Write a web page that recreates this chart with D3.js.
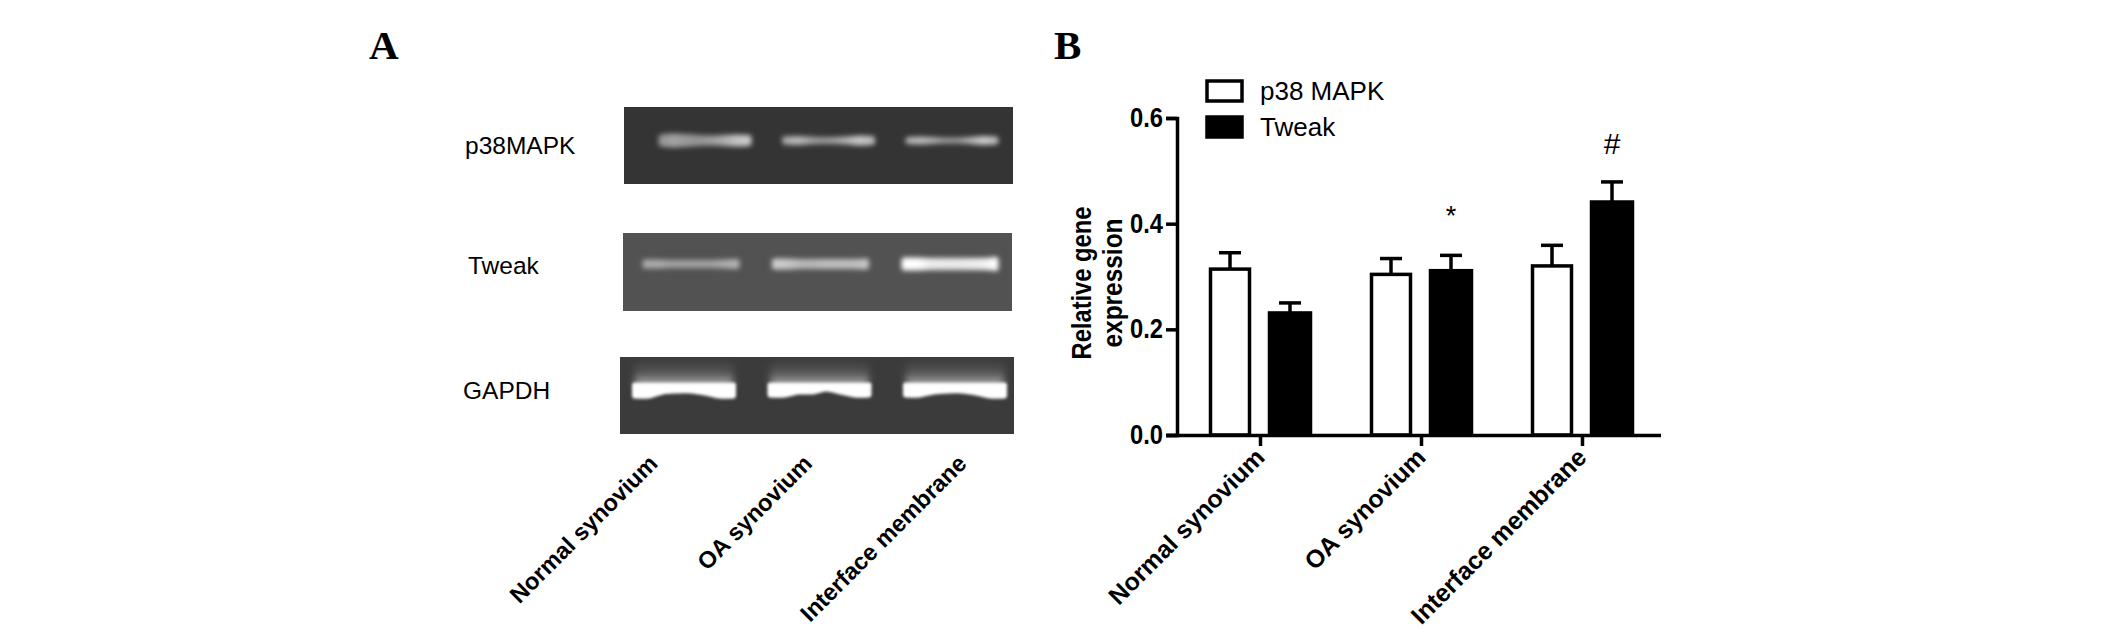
<!DOCTYPE html>
<html><head><meta charset="utf-8">
<script src="https://cdn.jsdelivr.net/npm/d3@7"></script>
<style>html,body{margin:0;padding:0;background:#fff}svg{display:block}text{font-family:"Liberation Sans",Arial,sans-serif;fill:#000}</style>
</head><body><svg id="c" width="2126" height="638"></svg>
<script>
const categories=["Normal synovium","OA synovium","Interface membrane"];
const seriesNames=["p38 MAPK","Tweak"];
const p38Values=[0.314,0.304,0.320];
const p38Errors=[0.031,0.030,0.039];
const tweakValues=[0.231,0.311,0.441];
const tweakErrors=[0.019,0.029,0.038];
const yTicks=[0,0.2,0.4,0.6];
const significance=["","*","#"];
const gelNames=["p38MAPK","Tweak","GAPDH"];
// Band appearance along each lane (8 samples, left to right)
const p38Thickness=[[7,9,8,6,5,6,7,6],[3,4,3,2,2,3,5,4],[2,3,2,1,1,2,4,3]];
const p38Brightness=[[.42,.5,.45,.42,.48,.55,.68,.72],[.55,.62,.5,.45,.5,.6,.7,.62],[.6,.62,.55,.45,.45,.6,.72,.62]];
const tweakThickness=[[4,4,3,3,3,3,4,5],[6,6,5,5,5,5,5,6],[8,8,7,7,7,7,7,9]];
const tweakBrightness=[[.55,.55,.5,.5,.5,.5,.55,.6],[.75,.7,.62,.62,.65,.65,.65,.7],[1,1,.9,.88,.88,.9,.92,1]];
const gapdhThickness=[[11,11,7,6,6,8,11,11],[10,10,7,7,4,7,10,10],[10,10,7,6,6,8,11,11]];
const gapdhBrightness=[[1,1,1,1,1,1,1,1],[1,1,1,1,1,1,1,1],[1,1,1,1,1,1,1,1]];

const svg=d3.select("#c");
const defs=svg.append("defs");
[["b3",2.8],["b2",1.8],["b6",3.5]].forEach(([id,s])=>defs.append("filter").attr("id",id).attr("filterUnits","userSpaceOnUse").attr("x",600).attr("y",90).attr("width",440).attr("height",360).append("feGaussianBlur").attr("stdDeviation",s));
const glowGrad=defs.append("linearGradient").attr("id","glow").attr("x1",0).attr("x2",0).attr("y1",0).attr("y2",1);
glowGrad.append("stop").attr("offset",0).attr("stop-color","#ffffff").attr("stop-opacity",0.02);
glowGrad.append("stop").attr("offset",0.5).attr("stop-color","#ffffff").attr("stop-opacity",0.14);
glowGrad.append("stop").attr("offset",1).attr("stop-color","#ffffff").attr("stop-opacity",0.65);

const letterStyle=s=>s.style("font-family","Liberation Serif").style("font-weight","bold").style("font-size","41px");
svg.append("text").attr("x",369).attr("y",59).text("A").call(letterStyle);
svg.append("text").attr("x",1054).attr("y",59).text("B").call(letterStyle);

// Gel panels
const gels=[
 {name:gelNames[0],thick:p38Thickness,vals:p38Brightness,x0:624,x1:1013,y0:107,y1:184,bg:"#343434",lanes:[705,952],w:88,by:140.5,lx:465,ly:154},
 {name:gelNames[1],thick:tweakThickness,vals:tweakBrightness,x0:623,x1:1012,y0:233,y1:311,bg:"#525252",lanes:[691,950],w:92,by:264,lx:468,ly:274},
 {name:gelNames[2],thick:gapdhThickness,vals:gapdhBrightness,x0:620,x1:1014,y0:357,y1:434,bg:"#3b3b3b",lanes:[684,955],w:99,by:385,lx:463,ly:399}
];
const bright=d3.scaleLinear().domain([0,1]).range(["#444444","#ffffff"]);
const sample=d3.range(8);
gels.forEach((g,gi)=>{
  const lane=d3.scalePoint().domain(categories).range(g.lanes);
  const along=d3.scaleLinear().domain([0,7]).range([-g.w/2,g.w/2]);
  const grp=svg.append("g");
  grp.append("rect").attr("x",g.x0).attr("y",g.y0).attr("width",g.x1-g.x0).attr("height",g.y1-g.y0).attr("fill",g.bg);
  if(gi===2){
    grp.selectAll(".glow").data(categories).join("rect")
      .attr("x",d=>lane(d)-g.w/2).attr("width",g.w).attr("y",g.by-24).attr("height",25).attr("rx",6).attr("fill","url(#glow)").attr("filter","url(#b6)");
  }
  categories.forEach((c,i)=>{
    const id=`g${gi}l${i}`;
    const lg=defs.append("linearGradient").attr("id",id);
    lg.selectAll("stop").data(sample).join("stop")
      .attr("offset",s=>s/7).attr("stop-color",s=>bright(g.vals[i][s]));
    const area=d3.area().curve(d3.curveCatmullRom)
      .x(s=>lane(c)+along(s))
      .y0(s=>gi===2?g.by:g.by-g.thick[i][s]/2)
      .y1(s=>gi===2?g.by+g.thick[i][s]:g.by+g.thick[i][s]/2);
    grp.append("path").attr("d",area(sample)).attr("fill",`url(#${id})`)
      .attr("stroke",`url(#${id})`).attr("stroke-width",5).attr("stroke-linejoin","round")
      .attr("filter",gi===2?"url(#b2)":"url(#b3)");
  });
  svg.append("text").attr("x",g.lx).attr("y",g.ly).text(g.name).style("font-size","24.5px");
});
// Gel lane labels
const gelLabel=d3.scalePoint().domain(categories).range([659,968]);
svg.selectAll(".gl").data(categories).join("text")
  .attr("text-anchor","end").style("font-weight","bold").style("font-size","23.5px")
  .attr("transform",d=>`translate(${gelLabel(d)},465) rotate(-45)`).text(d=>d);

// Bar chart
const x=d3.scalePoint().domain(categories).range([1260,1582]);
const y=d3.scaleLinear().domain([0,0.6]).range([435,118]);
const off=30;
const chart=svg.append("g");
function series(vals,errs,sign,fill,w){
  const g=chart.append("g");
  g.selectAll(".e").data(categories).join("line")
    .attr("x1",d=>x(d)+sign*off).attr("x2",d=>x(d)+sign*off)
    .attr("y1",(d,i)=>y(vals[i])).attr("y2",(d,i)=>y(vals[i]+errs[i]))
    .attr("stroke","#000").attr("stroke-width",3.5);
  g.selectAll(".c").data(categories).join("line")
    .attr("x1",d=>x(d)+sign*off-11).attr("x2",d=>x(d)+sign*off+11)
    .attr("y1",(d,i)=>y(vals[i]+errs[i])).attr("y2",(d,i)=>y(vals[i]+errs[i]))
    .attr("stroke","#000").attr("stroke-width",3.5);
  g.selectAll(".b").data(categories).join("rect")
    .attr("x",d=>x(d)+sign*off-w/2).attr("width",w)
    .attr("y",(d,i)=>y(vals[i])).attr("height",(d,i)=>y(0)-y(vals[i]))
    .attr("fill",fill).attr("stroke","#000").attr("stroke-width",3.5);
}
series(p38Values,p38Errors,-1,"#fff",39);
series(tweakValues,tweakErrors,1,"#000",41);

const yAxis=chart.append("g").attr("transform","translate(1177,0)")
  .call(d3.axisLeft(y).tickValues(yTicks).tickFormat(d3.format(".1f")).tickSize(11).tickPadding(3));
yAxis.select(".domain").attr("stroke","#000").attr("stroke-width",3.5);
yAxis.selectAll(".tick line").attr("stroke","#000").attr("stroke-width",3.5);
yAxis.selectAll("text").style("font-family","Liberation Sans").style("font-weight","bold").style("font-size","27px").attr("fill","#000")
  .attr("textLength",33).attr("lengthAdjust","spacingAndGlyphs");

const xAxis=chart.append("g").attr("transform","translate(0,435)")
  .call(d3.axisBottom(x).tickSize(11).tickSizeOuter(0).tickFormat(""));
xAxis.select(".domain").attr("d","M1166,0.5H1661").attr("stroke","#000").attr("stroke-width",3.5);
xAxis.selectAll(".tick line").attr("stroke","#000").attr("stroke-width",3.5);
chart.selectAll(".xl").data(categories).join("text")
  .attr("text-anchor","end").style("font-weight","bold").style("font-size","24.8px")
  .attr("transform",d=>`translate(${x(d)+6},459) rotate(-45)`).text(d=>d);

// y title
const titleStyle=(s,len)=>s.attr("text-anchor","middle").style("font-weight","bold").style("font-size","27px").attr("textLength",len).attr("lengthAdjust","spacingAndGlyphs");
chart.append("text").attr("transform","translate(1091,283) rotate(-90)").text("Relative gene").call(titleStyle,153);
chart.append("text").attr("transform","translate(1122,283) rotate(-90)").text("expression").call(titleStyle,129);

// legend
const lg=chart.append("g");
seriesNames.forEach((n,i)=>{
  lg.append("rect").attr("x",1207).attr("y",81+i*36).attr("width",35).attr("height",20).attr("fill",i?"#000":"#fff").attr("stroke","#000").attr("stroke-width",3.5);
  lg.append("text").attr("x",1260).attr("y",100+i*36).style("font-size","26px").text(n);
});

// significance marks
chart.selectAll(".sig").data(categories).join("text")
  .attr("x",d=>x(d)+off).attr("y",(d,i)=>i===2?y(tweakValues[i]+tweakErrors[i])-28:y(tweakValues[i]+tweakErrors[i])-30)
  .attr("text-anchor","middle").style("font-size",(d,i)=>i===2?"30px":"27px").text((d,i)=>significance[i]);
</script></body></html>
